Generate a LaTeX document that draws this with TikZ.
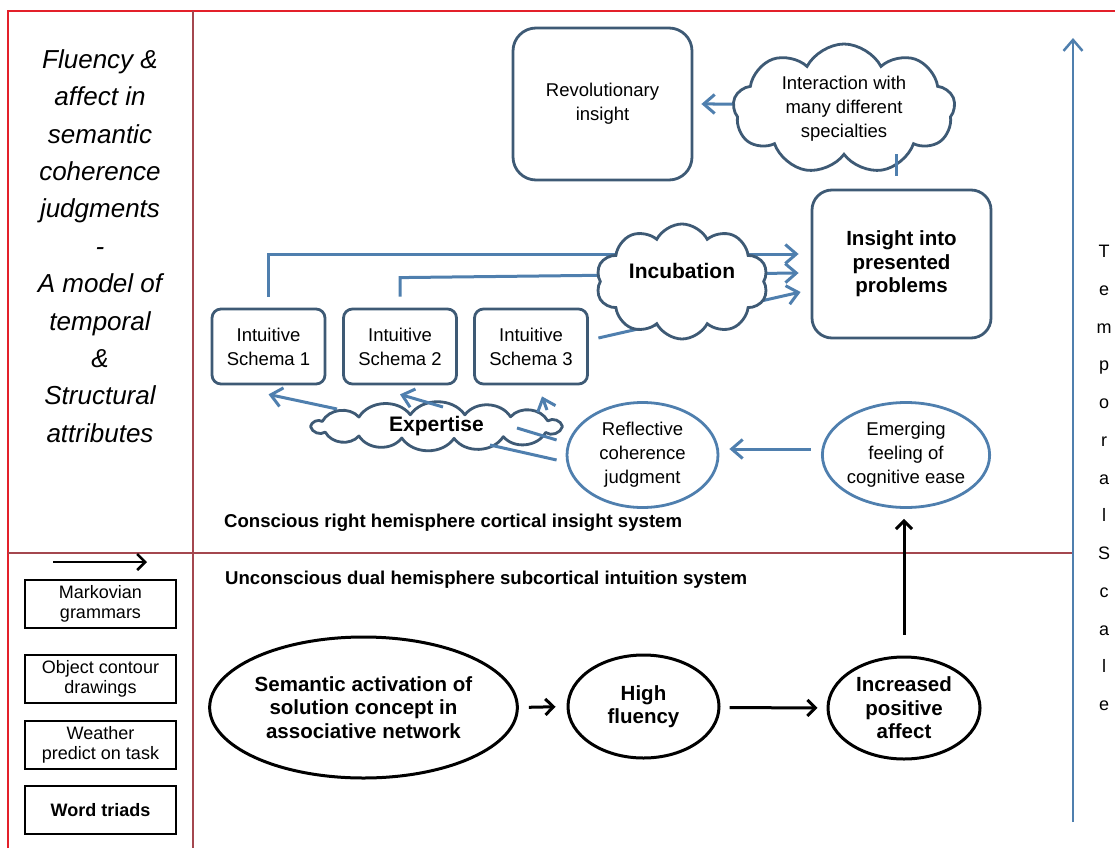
\documentclass[tikz,border=0pt]{standalone}
\usepackage{fontspec}
\setmainfont{Liberation Sans}
\usetikzlibrary{shapes.geometric,shapes.symbols,arrows.meta}
\definecolor{slate}{HTML}{3E5A75}
\definecolor{bluearr}{HTML}{4F7FAE}
\definecolor{framered}{HTML}{E3202A}
\definecolor{divred}{HTML}{A4474F}
\begin{document}
\begin{tikzpicture}[x=1pt,y=-1pt,
 reg/.style={font=\fontsize{18.5}{24}\selectfont, align=center},
 big/.style={font=\bfseries\fontsize{20.5}{23.5}\selectfont, align=center},
 rbox/.style={draw=slate, line width=2.8pt, rectangle, inner sep=0pt},
 bell/.style={ellipse, draw=bluearr, line width=2.8pt, inner sep=0pt},
 kell/.style={ellipse, draw=black, line width=3pt, inner sep=0pt},
 puff/.style={cloud, draw=slate, fill=white, line width=2.8pt, cloud ignores aspect, inner sep=0pt},
 puffline/.style={draw=slate, fill=white, line width=2.8pt, line join=round},
 barrow/.style={draw=bluearr, line width=3pt, -{Straight Barb[length=11pt,width=19pt]}},
 bline/.style={draw=bluearr, line width=3pt},
 karrow/.style={draw=black, line width=3pt, -{Straight Barb[length=8pt,width=16pt]}},
 legbox/.style={draw=black, line width=2.2pt, minimum width=151pt, minimum height=48pt, inner sep=0pt, align=center, font=\fontsize{18}{19.5}\selectfont},
 labtxt/.style={font=\bfseries\fontsize{18.6}{20}\selectfont, anchor=west, inner sep=0pt},
]
\useasboundingbox (0,0) rectangle (1115,848);

% ---- frame ----
\coordinate (ftl) at (8,11);
\coordinate (ftr) at (1115,11);
\coordinate (fbl) at (8,848);
\coordinate (dvt) at (193,11);
\coordinate (dvb) at (193,848);
\coordinate (hl) at (8,553);
\coordinate (hr) at (1073,553);
\draw[framered, line width=2.5pt] (fbl) -- (ftl) -- (ftr);
\draw[divred, line width=2.5pt] (dvt) -- (dvb);
\draw[divred, line width=2pt] (hl) -- (hr);

% ---- left title ----
\node[align=center, font=\itshape\fontsize{26}{37.4}\selectfont] (title) at (100,246)
 {Fluency \&\\affect in\\semantic\\coherence\\judgments\\-\\A model of\\temporal\\\&\\Structural\\attributes};

% ---- legend ----
\coordinate (lga) at (53,562);
\coordinate (lgb) at (147,562);
\draw[karrow, line width=2.5pt] (lga) -- (lgb);
\node[legbox] (mark) at (100.5,604) {Markovian\\grammars};
\node[legbox] (obj) at (100.5,679) {Object contour\\drawings};
\node[legbox] (wea) at (100.5,745) {Weather\\predict on task};
\node[legbox, font=\bfseries\fontsize{18}{19.5}\selectfont] (word) at (100.5,810) {Word triads};

% ---- temporal scale ----
\coordinate (tsb) at (1073,822);
\coordinate (tst) at (1073,38);
\draw[barrow, line width=2.5pt] (tsb) -- (tst);
\node[align=center, font=\fontsize{18}{37.75}\selectfont] (tscale) at (1104,478)
 {T\\e\\m\\p\\o\\r\\a\\l\\S\\c\\a\\l\\e};

% ---- upper system ----
\node[rbox, rounded corners=23pt, minimum width=179pt, minimum height=152pt, reg] (rev) at (602.5,104) {Revolutionary\\insight};
\node[rbox, rounded corners=20pt, minimum width=179pt, minimum height=148pt, big] (ins) at (901.5,264) {Insight into\\presented\\problems};

\node[rbox, rounded corners=9pt, minimum width=113pt, minimum height=75pt, reg] (s1) at (268.5,346.5) {Intuitive\\Schema 1};
\node[rbox, rounded corners=9pt, minimum width=113pt, minimum height=75pt, reg] (s2) at (400,346.5) {Intuitive\\Schema 2};
\node[rbox, rounded corners=9pt, minimum width=113pt, minimum height=75pt, reg] (s3) at (531,346.5) {Intuitive\\Schema 3};

% lines from schemas to insight (passing behind the incubation cloud)
\draw[barrow] ([yshift=11pt]s1.north) |- ([xshift=-12pt,yshift=10pt]ins.west);
\draw[barrow] ([yshift=11pt]s2.north) -- ++(0,-19) -- ([xshift=-12pt,yshift=-9pt]ins.west);
\draw[barrow] ([xshift=9.5pt,yshift=8.5pt]s3.east) -- ([xshift=-10pt,yshift=-28pt]ins.west);

\node[puff, cloud puffs=10, cloud puff arc=125, minimum width=172pt, minimum height=115pt] (inc) at (682,281.5) {};
\node[big, font=\bfseries\fontsize{21}{24}\selectfont] (inctxt) at (682,271) {Incubation};

\node[puff, cloud puffs=9, cloud puff arc=125, minimum width=222pt, minimum height=130pt, reg] (inter) at (844,109) {Interaction with\\many different\\specialties};
\draw[barrow, shorten >=8pt] ([yshift=5pt]inter.west) -- ([yshift=0pt]rev.east);
\draw[bline] ([xshift=-5.5pt,yshift=13pt]ins.north) -- ++(0,-22);

% expertise (flat cloud drawn as puffs on an ellipse)
\coordinate (expc) at (436.5,426.5);
\draw[puffline, shift={(expc)}]
  (0:126 and 12) to[bend left=55] (30:126 and 12) to[bend left=55] (58:126 and 12)
  to[bend left=55] (82:126 and 12) to[bend left=55] (106:126 and 12)
  to[bend left=55] (128:126 and 12) to[bend left=55] (152:126 and 12)
  to[bend left=55] (180:126 and 12) to[bend left=55] (205:126 and 12)
  to[bend left=55] (232:126 and 12) to[bend left=55] (258:126 and 12)
  to[bend left=55] (283:126 and 12) to[bend left=55] (306:126 and 12)
  to[bend left=55] (332:126 and 12) to[bend left=55] (360:126 and 12) -- cycle;
\node[big, font=\bfseries\fontsize{21}{24}\selectfont, minimum width=256pt, minimum height=36pt] (exp) at (expc) {Expertise};
\draw[barrow] ([xshift=-99.5pt,yshift=17.5pt]exp.center) -- ([yshift=-9pt]s1.south);
\draw[barrow] ([xshift=6.5pt,yshift=19.5pt]exp.center) -- ([yshift=-9pt]s2.south);
\draw[barrow] ([xshift=110.5pt,yshift=16.5pt]exp.center) -- ([xshift=11pt,yshift=-11pt]s3.south);

\node[bell, minimum width=151pt, minimum height=105pt, reg] (refl) at (642.5,455) {Reflective\\coherence\\judgment};
\node[bell, minimum width=152pt, minimum height=105pt, reg] (emer) at (906,455) {Emerging\\feeling of\\cognitive ease};

\draw[bline] ([xshift=-9pt,yshift=15pt]refl.west) -- ([xshift=80.5pt,yshift=-1.5pt]exp.center);
\draw[bline] ([xshift=-9pt,yshift=-5pt]refl.west) -- ([xshift=53.5pt,yshift=-18.5pt]exp.center);

\draw[barrow, shorten <=10pt, shorten >=10pt] ([yshift=6pt]emer.west) -- ([yshift=6pt]refl.east);

\node[labtxt] (consc) at (224,523) {Conscious right hemisphere cortical insight system};
\node[labtxt] (uncon) at (225,580) {Unconscious dual hemisphere subcortical intuition system};

% ---- lower system ----
\node[kell, minimum width=303pt, minimum height=141pt, big] (sem) at (363.5,707.5) {Semantic activation of\\solution concept in\\associative network};
\node[kell, minimum width=151pt, minimum height=103pt, big] (high) at (643.5,706.5) {High\\fluency};
\node[kell, minimum width=152pt, minimum height=102pt, big] (incr) at (904,708) {Increased\\positive\\affect};

\draw[karrow, shorten <=10pt, shorten >=11pt] (sem.east) -- (high.west);
\draw[karrow, shorten <=9pt, shorten >=9pt] ([yshift=-1pt]high.east) -- (incr.west);
\draw[karrow, shorten <=21pt, shorten >=10pt] (incr.north) -- (incr.north |- emer.south);
\end{tikzpicture}
\end{document}
